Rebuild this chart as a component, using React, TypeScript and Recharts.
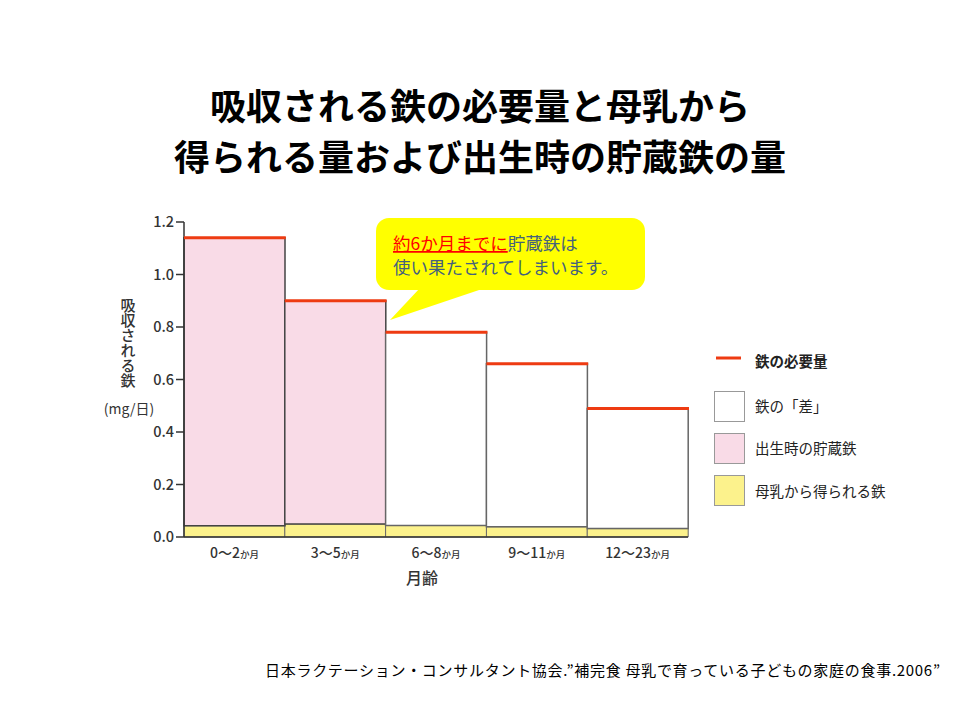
import React from "react";
import { ComposedChart, Bar, Line, XAxis, YAxis } from "recharts";

const ageGroups = ["0〜2", "3〜5", "6〜8", "9〜11", "12〜23"];
const fromMilk = [0.043, 0.05, 0.044, 0.039, 0.032];
const storedIron = [1.097, 0.85, 0, 0, 0];
const ironGap = [0, 0, 0.736, 0.621, 0.458];
const requirement = [1.14, 0.9, 0.78, 0.66, 0.49];
const yTicks = [0, 0.2, 0.4, 0.6, 0.8, 1.0, 1.2];

const rows = ageGroups.map((age, i) => ({
  age,
  milk: fromMilk[i],
  stored: storedIron[i],
  gap: ironGap[i],
  req: requirement[i],
}));

const FONT = '"Noto Sans CJK JP", "Noto Sans", sans-serif';
const RED = "#ee3b12";
const PINK = "#f9dbe7";
const YELLOW = "#fcf28c";
const BAND_HALF = 50.4;

const AgeTick = (props: any) => {
  const { x, y, payload } = props;
  return (
    <text x={x} y={y + 13} textAnchor="middle" fill="#333" fontFamily={FONT} fontWeight={500}>
      <tspan fontSize={14}>{payload.value}</tspan>
      <tspan fontSize={9.5}>か月</tspan>
    </text>
  );
};

const ReqDot = (props: any) => {
  const { cx, cy } = props;
  if (cx == null || cy == null) return null;
  return <line x1={cx - BAND_HALF} x2={cx + BAND_HALF + 1} y1={cy} y2={cy} stroke={RED} strokeWidth={3} />;
};

export default function App() {
  return (
    <div style={{ position: "absolute", left: 0, top: 0, width: 960, height: 720, background: "#fff", fontFamily: FONT }}>
      <div style={{ position: "absolute", left: 0, top: 79, width: 960, textAlign: "center", fontSize: 36, fontWeight: 700, lineHeight: "51px", color: "#000" }}>
        吸収される鉄の必要量と母乳から
        <br />
        得られる量および出生時の貯蔵鉄の量
      </div>

      <ComposedChart
        width={960}
        height={720}
        data={rows}
        barCategoryGap={0}
        margin={{ top: 222, right: 272, bottom: 153, left: 124 }}
        style={{ position: "absolute", left: 0, top: 0 }}
      >
        <XAxis dataKey="age" height={30} tick={<AgeTick />} tickLine={false} axisLine={{ stroke: "#333", strokeWidth: 1.5 }} />
        <YAxis
          width={60}
          domain={[0, 1.2]}
          ticks={yTicks}
          tickFormatter={(v: number) => v.toFixed(1)}
          tick={{ fill: "#333", fontSize: 14.5, fontFamily: FONT, fontWeight: 500 }}
          tickSize={8}
          tickLine={{ stroke: "#333", strokeWidth: 1.5 }}
          axisLine={{ stroke: "#333", strokeWidth: 1.5 }}
        />
        <Bar dataKey="milk" stackId="a" fill={YELLOW} stroke="#666" strokeWidth={1} isAnimationActive={false} />
        <Bar dataKey="stored" stackId="a" fill={PINK} stroke="#444" strokeWidth={1.5} isAnimationActive={false} />
        <Bar dataKey="gap" stackId="a" fill="#fff" stroke="#666" strokeWidth={1.5} isAnimationActive={false} />
        <Line dataKey="req" stroke="none" dot={<ReqDot />} activeDot={false} isAnimationActive={false} />
      </ComposedChart>

      <div style={{ position: "absolute", left: 104, top: 298, width: 48, display: "flex", justifyContent: "center" }}>
        <div style={{ writingMode: "vertical-rl", fontSize: 15, fontWeight: 500, color: "#333", lineHeight: "15px" }}>吸収される鉄</div>
      </div>
      <div style={{ position: "absolute", left: 98, top: 398, width: 62, textAlign: "center", fontSize: 14, color: "#333" }}>(mg/日)</div>
      <div style={{ position: "absolute", left: 382, top: 565, width: 80, textAlign: "center", fontSize: 16, fontWeight: 500, color: "#333" }}>月齢</div>

      <svg width={960} height={720} style={{ position: "absolute", left: 0, top: 0, pointerEvents: "none" }}>
        <path d="M 420 288 L 390 320 L 485 288 Z" fill="#ffff00" />
        <rect x={376} y={218} width={269} height={72} rx={13} fill="#ffff00" />
        <text x={393} y={250} fontSize={17.5} fontFamily={FONT}>
          <tspan fill="#ff0000" textDecoration="underline">約6か月までに</tspan>
          <tspan fill="#44617d">貯蔵鉄は</tspan>
        </text>
        <text x={393} y={274} fontSize={17.5} fontFamily={FONT} fill="#44617d">使い果たされてしまいます。</text>

        <line x1={716} x2={741} y1={358} y2={358} stroke={RED} strokeWidth={3} />
        <text x={755} y={367} fontSize={14.5} fontWeight={700} fontFamily={FONT} fill="#222">鉄の必要量</text>
        <rect x={714.5} y={391.5} width={30} height={30} fill="#fff" stroke="#999" />
        <text x={755} y={412} fontSize={14.5} fontFamily={FONT} fill="#222">鉄の「差」</text>
        <rect x={714.5} y={433.5} width={30} height={30} fill={PINK} stroke="#999" />
        <text x={755} y={454} fontSize={14.5} fontFamily={FONT} fill="#222">出生時の貯蔵鉄</text>
        <rect x={714.5} y={475.5} width={30} height={30} fill={YELLOW} stroke="#999" />
        <text x={755} y={497} fontSize={14.5} fontFamily={FONT} fill="#222">母乳から得られる鉄</text>

        <text x={265} y={676} fontSize={15} fontFamily={FONT} fill="#000" textLength={675}>
          日本ラクテーション・コンサルタント協会.”補完食  母乳で育っている子どもの家庭の食事.2006”
        </text>
      </svg>
    </div>
  );
}
